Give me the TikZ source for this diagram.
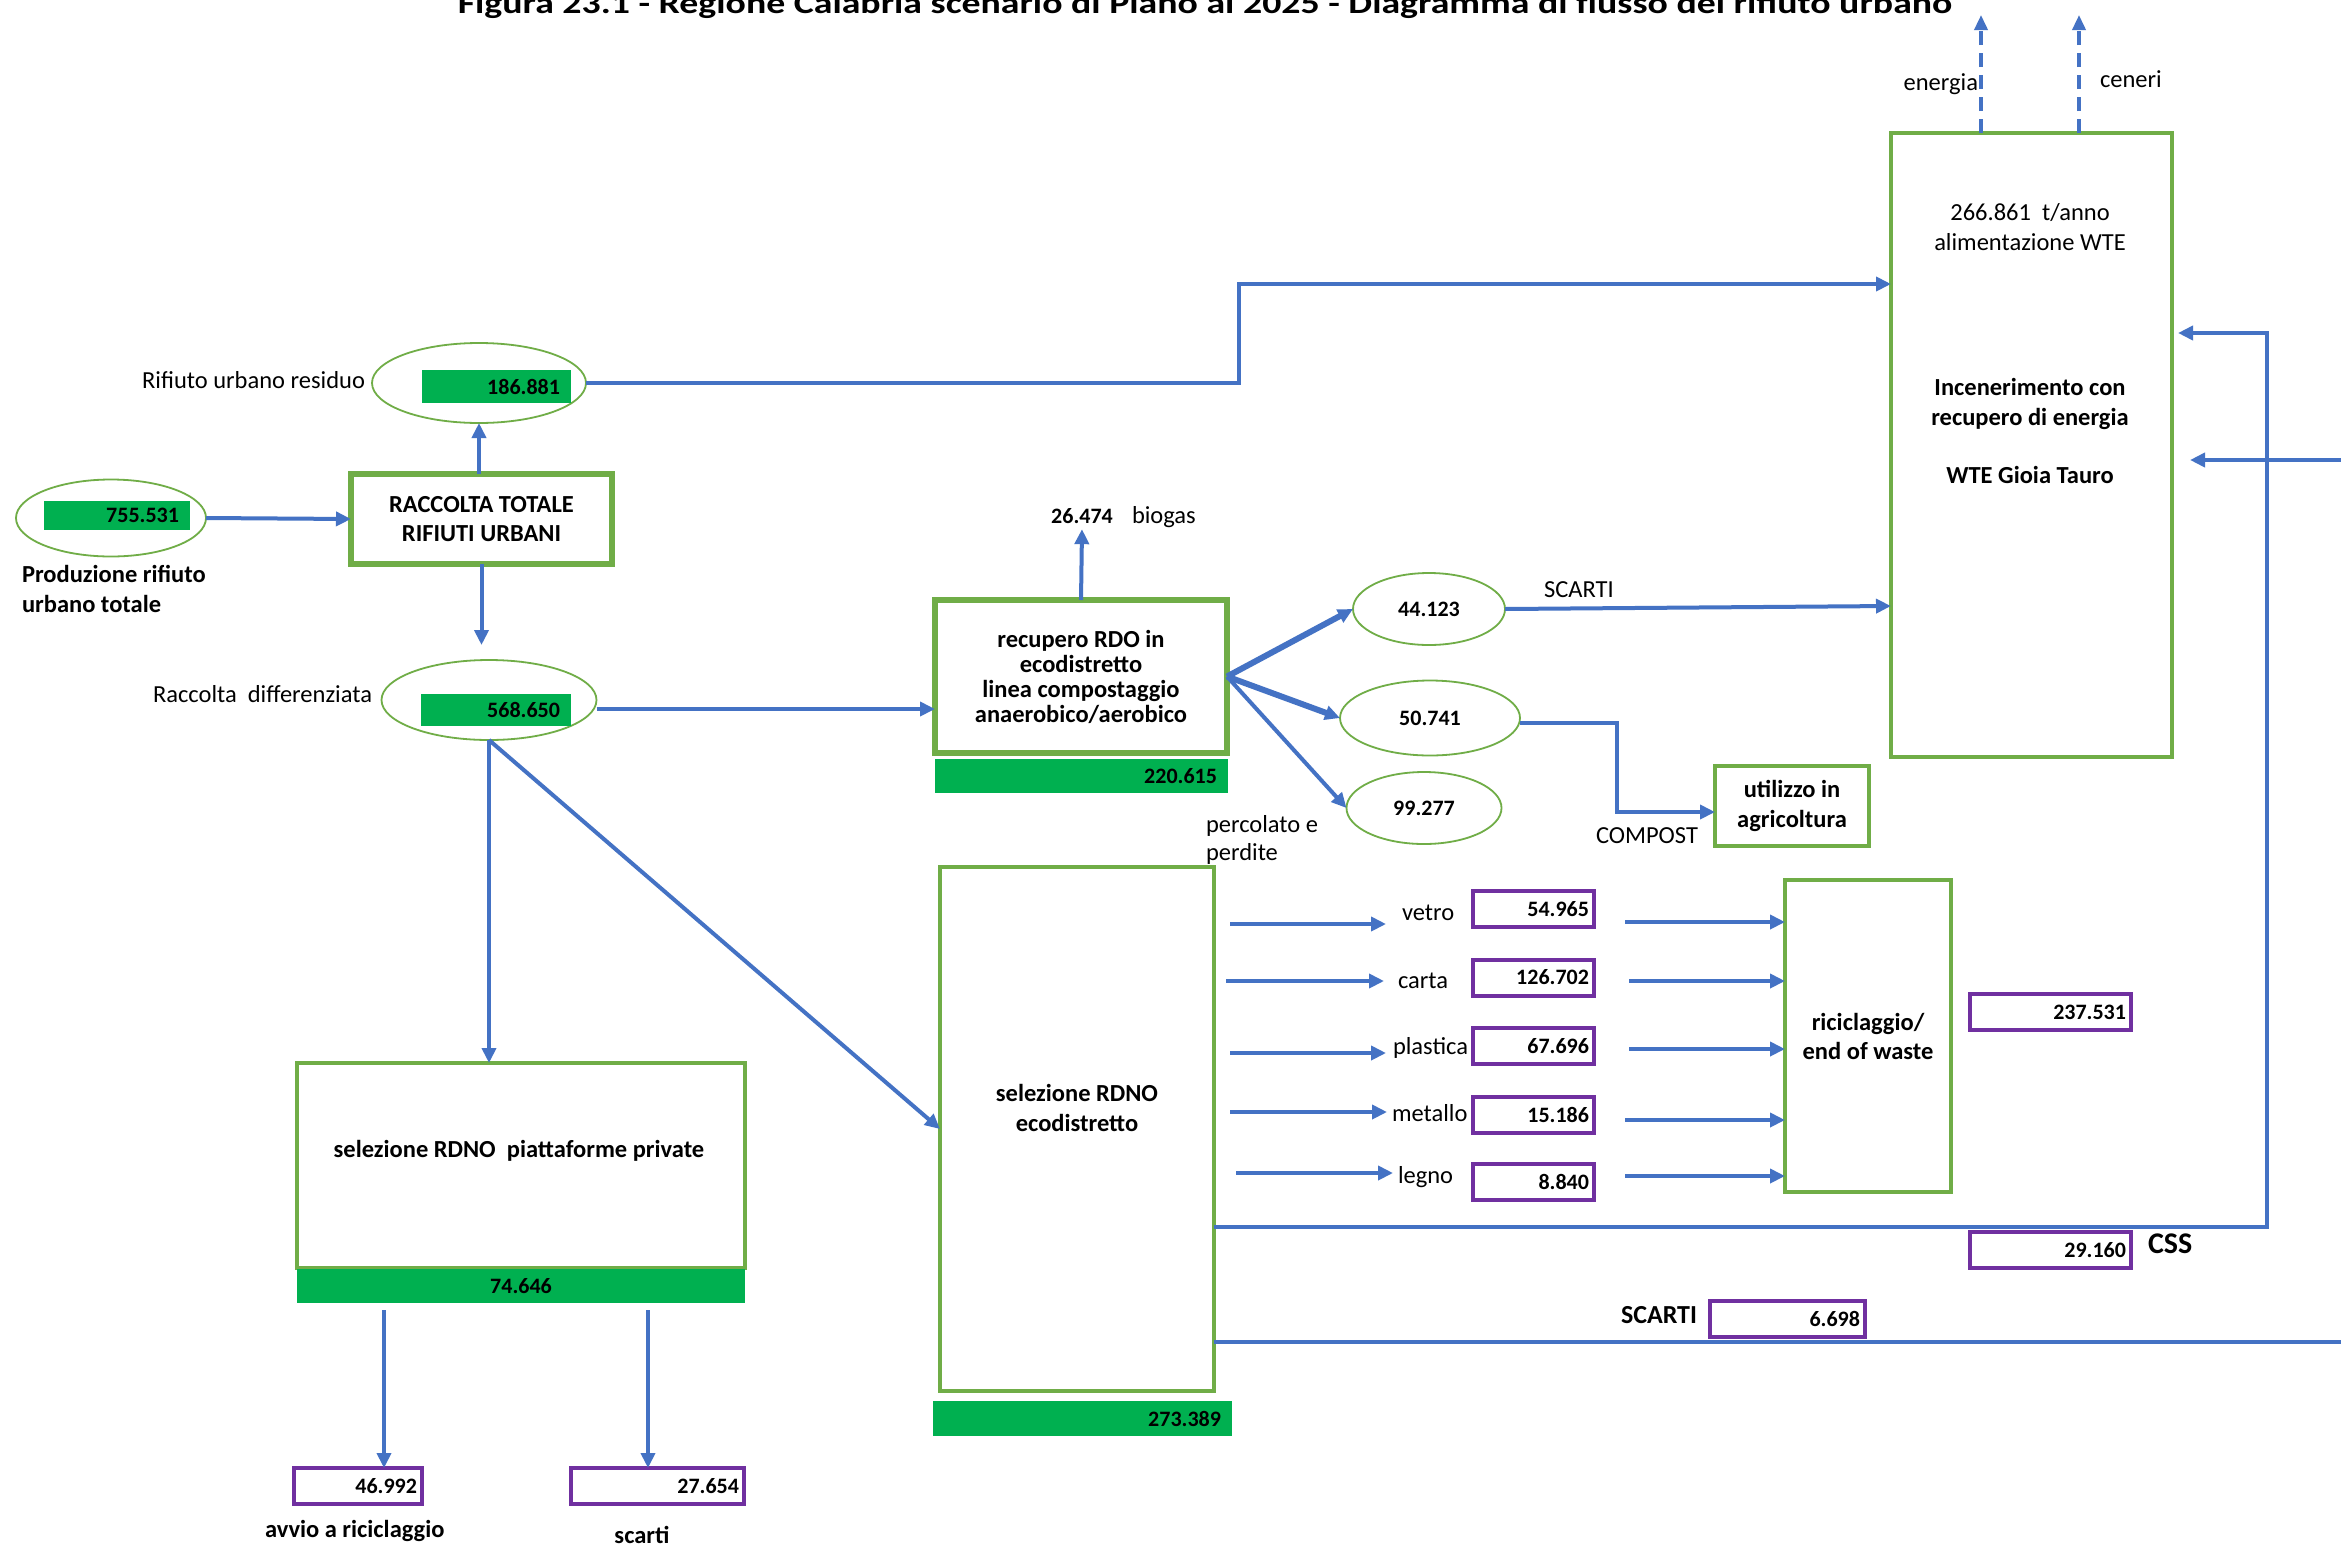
\documentclass[tikz,border=0pt]{standalone}
\usepackage{fontspec}
\setmainfont{Carlito}
\usetikzlibrary{arrows.meta,shapes.geometric,calc}
\definecolor{myblue}{HTML}{4472C4}
\definecolor{mygreen}{HTML}{70AD47}
\definecolor{gfill}{HTML}{00B050}
\definecolor{mypurple}{HTML}{7030A0}
\tikzset{
  base/.style={inner sep=0pt, outer sep=0pt, font=\fontsize{24.5}{29}\selectfont},
  txt/.style={base},
  btxt/.style={base, font=\fontsize{24.5}{30}\selectfont\bfseries},
  nbtxt/.style={base, font=\fontsize{22}{27}\selectfont\bfseries},
  gbox/.style={base, rectangle, draw=mygreen, line width=4.5pt, fill=white, align=center, font=\fontsize{24.5}{29}\selectfont\bfseries},
  oval/.style={base, ellipse, draw=mygreen, line width=1.8pt, font=\fontsize{22}{27}\selectfont\bfseries},
  gnum/.style={base, fill=gfill, align=right, inner xsep=11pt, font=\fontsize{22}{27}\selectfont\bfseries},
  pnum/.style={base, rectangle, draw=mypurple, line width=4pt, align=right, inner xsep=5pt, minimum height=36pt, font=\fontsize{22}{27}\selectfont\bfseries},
  arr/.style={draw=myblue, line width=4pt, -{Triangle[length=15pt,width=14pt]}},
  tarr/.style={arr, line width=6pt},
  fline/.style={draw=myblue, line width=4pt},
  darr/.style={draw=myblue, line width=3.5pt, dash pattern=on 14pt off 8pt, -{Triangle[length=15pt,width=13pt]}},
}
\begin{document}
\begin{tikzpicture}[x=1pt,y=-1pt]
\useasboundingbox (0,0) rectangle (2341,1547);
\clip (0,0) rectangle (2341,1547);
\fill[white] (0,0) rectangle (2341,1547);

% title
\node[base, anchor=base, font=\fontsize{30}{36}\selectfont\bfseries] (title) at (1205,13) {\scalebox{1.26}[1]{Figura 23.1 - Regione Calabria scenario di Piano al 2025 - Diagramma di flusso del rifiuto urbano}};

% production
\node[oval, minimum width=190pt, minimum height=77pt] (e755) at (111,518) {};
\node[gnum, text width=124pt, minimum height=29pt] (g755) at (117,515.5) {755.531};
\node[btxt, anchor=base west] (pr1) at (22,582) {Produzione rifiuto};
\node[btxt, anchor=base west] (pr2) at (22,612) {urbano totale};

\node[gbox, line width=5.5pt, minimum width=261pt, minimum height=90pt] (rac) at (481.5,519) {RACCOLTA TOTALE\\RIFIUTI URBANI};

% residuo
\node[oval, minimum width=214pt, minimum height=80pt] (e186) at (479,383) {};
\node[gnum, text width=127pt, minimum height=33pt] (g186) at (496.5,386.5) {186.881};
\node[txt, anchor=base east] (l186) at (365,388) {Rifiuto urbano residuo};

% differenziata
\node[oval, minimum width=215pt, minimum height=80pt] (e568) at (489,700) {};
\node[gnum, text width=128pt, minimum height=32pt] (g568) at (496,710) {568.650};
\node[txt, anchor=base east] (l568) at (372,702) {Raccolta\ \ differenziata};

% recupero RDO
\node[gbox, line width=5.5pt, minimum width=292pt, minimum height=153pt, font=\fontsize{24.5}{25}\selectfont\bfseries] (rec) at (1081,676.5) {recupero RDO in\\ecodistretto\\linea compostaggio\\anaerobico/aerobico};
\node[gnum, text width=271pt, minimum height=34pt] (g220) at (1081.5,776) {220.615};
\node[nbtxt, anchor=base] (bio) at (1082,523) {26.474};
\node[txt, anchor=base west] (biog) at (1132,523) {biogas};

\node[oval, minimum width=152pt, minimum height=72pt] (e44) at (1429,609) {44.123};
\node[oval, minimum width=180pt, minimum height=75pt] (e50) at (1430,718) {50.741};
\node[oval, minimum width=155pt, minimum height=72pt] (e99) at (1424,808) {99.277};
\node[txt, anchor=base west] (lsc) at (1544,597) {SCARTI};
\node[txt, anchor=base west] (lcomp) at (1596,843) {COMPOST};
\node[gbox, minimum width=154pt, minimum height=80pt, font=\fontsize{24.5}{30}\selectfont\bfseries] (util) at (1792,806) {utilizzo in\\agricoltura};
\node[txt, anchor=base west] (perc1) at (1206,832) {percolato e};
\node[txt, anchor=base west] (perc2) at (1206,860) {perdite};

% WTE
\node[gbox, minimum width=281pt, minimum height=624pt] (wte) at (2031.5,445) {};
\node[txt, anchor=base] (wt1) at (2030,220) {266.861\ \ t/anno};
\node[txt, anchor=base] (wt2) at (2030,250) {alimentazione WTE};
\node[btxt, anchor=base] (wt3) at (2030,395) {Incenerimento con};
\node[btxt, anchor=base] (wt4) at (2030,425) {recupero di energia};
\node[btxt, anchor=base] (wt5) at (2030,483) {WTE Gioia Tauro};
\node[txt, anchor=base east] (len) at (1978,90) {energia};
\node[txt, anchor=base west] (lcen) at (2100,87) {ceneri};
\coordinate (eTop) at (1981,15);
\coordinate (cTop) at (2079,15);

% selezione ecodistretto
\node[gbox, minimum width=274pt, minimum height=524pt] (eco) at (1077,1129) {};
\node[btxt, align=center] (ecoT) at (1077,1108) {selezione RDNO\\ecodistretto};
\node[gnum, text width=277pt, minimum height=35pt] (g273) at (1082.5,1418.5) {273.389};

% selezione piattaforme
\node[gbox, minimum width=448pt, minimum height=205pt] (pia) at (521,1165.5) {};
\node[btxt] (piaT) at (519,1151) {selezione RDNO\ \ piattaforme private};
\node[base, fill=gfill, minimum width=448pt, minimum height=34pt, font=\fontsize{22}{27}\selectfont\bfseries] (g746) at (521,1286) {74.646};
\node[pnum, text width=118pt] (b46) at (358,1486) {46.992};
\node[pnum, text width=163pt] (b27) at (657.5,1486) {27.654};
\node[btxt, anchor=base west] (lav) at (265,1537) {avvio a riciclaggio};
\node[btxt, anchor=base] (lsc2) at (642,1543) {scarti};

% materials
\node[txt, anchor=base west] (lv) at (1402,920) {vetro};
\node[txt, anchor=base west] (lc) at (1398,988) {carta};
\node[txt, anchor=base west] (lp) at (1393,1054) {plastica};
\node[txt, anchor=base west] (lm) at (1392,1121) {metallo};
\node[txt, anchor=base west] (ll) at (1398,1183) {legno};
\node[pnum, text width=111pt] (pv) at (1533.5,909) {54.965};
\node[pnum, text width=111pt] (pc) at (1533.5,977.5) {126.702};
\node[pnum, text width=111pt] (pp) at (1533.5,1046) {67.696};
\node[pnum, text width=111pt] (pm) at (1533.5,1115) {15.186};
\node[pnum, text width=111pt] (pl) at (1533.5,1182) {8.840};
\coordinate (mv) at (1386,924);
\coordinate (mc) at (1384,981);
\coordinate (mp) at (1386,1053);
\coordinate (mm) at (1387,1112);
\coordinate (ml) at (1393,1173);

\node[gbox, minimum width=166pt, minimum height=312pt] (ric) at (1868,1036) {riciclaggio/\\end of waste};
\node[pnum, text width=151pt] (b237) at (2050.5,1012) {237.531};
\node[pnum, text width=151pt] (b29) at (2050.5,1250) {29.160};
\node[base, anchor=base west, font=\fontsize{30}{34}\selectfont\bfseries] (lcss) at (2148,1253) {CSS};
\node[pnum, text width=145pt] (b66) at (1787.5,1319) {6.698};
\node[base, anchor=base west, font=\fontsize{26}{30}\selectfont\bfseries] (lsc3) at (1621,1323) {SCARTI};

\coordinate (cssR) at (2267,1227);
\coordinate (offR1) at (2341,460);
\coordinate (offR2) at (2341,1342);

% ---------- connectors ----------
\draw[arr] (e755.east) -- (rac.west);
\draw[arr] (e186.south |- rac.north) -- (e186.south);
\draw[arr] (rac.south) -- ($(rac.south |- e568.north)+(0,-15)$);
\draw[arr] (e186.east) -- (1239,383) -- (1239,284) -- (wte.west |- 0,284);
\draw[arr] ($(e568.east)+(0,9)$) -- ($(e568.east -| rec.west)+(0,9)$);
\draw[arr] (e568.south) -- (e568.south |- pia.north);
\draw[arr] (e568.south) -- (eco.west);
\draw[arr] (rec.north) -- ([yshift=-6pt]bio.south);
\draw[tarr] (rec.east) -- (e44.west);
\draw[tarr] (rec.east) -- (e50.west);
\draw[arr] (rec.east) -- (e99.west);
\draw[arr] (e44.east) -- (wte.west |- 0,606);
\draw[arr] ($(e50.east)+(0,5)$) -| (1617,812) -- ($(util.west)+(0,6)$);

\draw[darr] (wte.north -| eTop) -- (eTop);
\draw[darr] (wte.north -| cTop) -- (cTop);

\draw[arr] ($(b46.north |- g746.south)+(26,7)$) -- ($(b46.north)+(26,0)$);
\draw[arr] ($(b27.north |- g746.south)+(-9.5,7)$) -- ($(b27.north)+(-9.5,0)$);

\draw[arr] ($(eco.east |- mv)+(16,0)$) -- (mv);
\draw[arr] ($(eco.east |- mc)+(12,0)$) -- (mc);
\draw[arr] ($(eco.east |- mp)+(16,0)$) -- (mp);
\draw[arr] ($(eco.east |- mm)+(16,0)$) -- (mm);
\draw[arr] ($(eco.east |- ml)+(22,0)$) -- (ml);

\draw[arr] ($(pv.east |- 0,922)+(31,0)$) -- (ric.west |- 0,922);
\draw[arr] ($(pc.east |- 0,981)+(35,0)$) -- (ric.west |- 0,981);
\draw[arr] ($(pp.east |- 0,1049)+(35,0)$) -- (ric.west |- 0,1049);
\draw[arr] ($(pm.east |- 0,1120)+(31,0)$) -- (ric.west |- 0,1120);
\draw[arr] ($(pl.east |- 0,1176)+(31,0)$) -- (ric.west |- 0,1176);

\draw[arr] (eco.east |- cssR) -- (cssR) -- (cssR |- 0,333) -- ($(wte.east |- 0,333)+(6,0)$);
\draw[arr] (offR1) -- ($(wte.east |- offR1)+(18,0)$);
\draw[fline] (eco.east |- offR2) -- (offR2);
\end{tikzpicture}
\end{document}
